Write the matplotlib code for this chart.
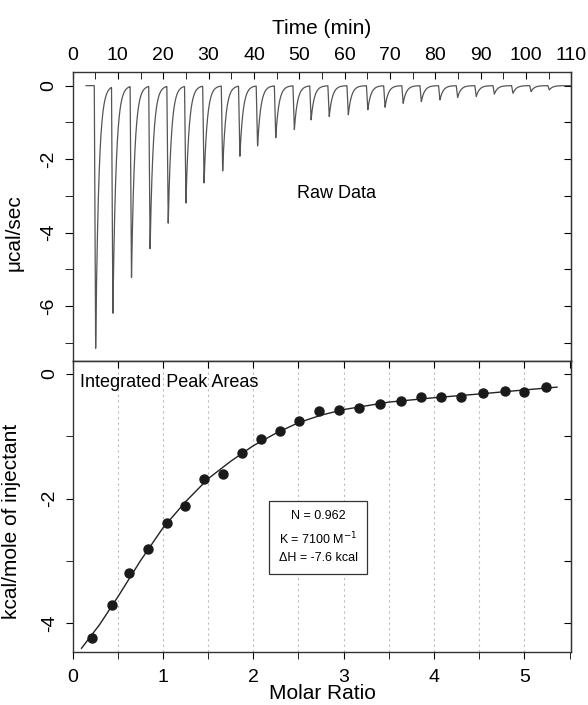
import numpy as np
import matplotlib
matplotlib.use("Agg")
import matplotlib.pyplot as plt
from matplotlib.ticker import MultipleLocator

plt.rcParams['font.family'] = ['Liberation Sans', 'DejaVu Sans']
plt.rcParams['axes.unicode_minus'] = False

# Raw data: injection times (min) and peak depths (ucal/sec)
peak_times = [5.1, 8.9, 13.0, 17.1, 21.1, 25.0, 29.0, 33.1, 36.9, 40.8, 44.8, 48.9, 52.6,
              56.6, 60.8, 65.1, 68.9, 72.9, 76.9, 81.0, 84.9, 89.0, 93.0, 97.1, 101.1, 105.1]
peak_depths = [-7.2, -6.2, -5.25, -4.48, -3.75, -3.23, -2.66, -2.34, -1.93, -1.66, -1.43, -1.21, -0.93,
               -0.84, -0.80, -0.66, -0.59, -0.48, -0.44, -0.39, -0.32, -0.30, -0.23, -0.21, -0.16, -0.12]

# Integrated heats (kcal/mole of injectant) vs molar ratio
molar_ratio = [0.22, 0.44, 0.63, 0.83, 1.04, 1.25, 1.46, 1.66, 1.87, 2.09, 2.29, 2.51,
               2.73, 2.95, 3.17, 3.40, 3.63, 3.86, 4.08, 4.30, 4.54, 4.78, 5.00, 5.24]
heat = [-4.23, -3.71, -3.19, -2.80, -2.39, -2.12, -1.69, -1.605, -1.27, -1.04, -0.91, -0.76,
        -0.59, -0.578, -0.546, -0.48, -0.428, -0.364, -0.375, -0.364, -0.31, -0.27, -0.29, -0.21]

# Fitted curve
fit_x = [0.10, 0.30, 0.50, 0.75, 1.00, 1.25, 1.50, 1.75, 2.00, 2.25, 2.50, 2.75,
         3.00, 3.50, 4.00, 4.50, 5.00, 5.36]
fit_y = [-4.40, -4.02, -3.58, -3.00, -2.47, -2.05, -1.68, -1.40, -1.15, -0.95, -0.78, -0.66,
         -0.57, -0.45, -0.38, -0.32, -0.255, -0.21]

fit_text = "N = 0.962\nK = 7100 M$^{-1}$\n\u0394H = -7.6 kcal"

# build the thermogram trace from the peaks
t = np.linspace(3, 110, 6000)
trace = np.zeros_like(t)
for tp, d in zip(peak_times, peak_depths):
    t0 = tp - 0.3
    drop = (t >= t0) & (t < tp)
    trace[drop] += d * (t[drop] - t0) / 0.3
    rec = t >= tp
    trace[rec] += d * np.exp(-(t[rec] - tp) / 0.7)

fig = plt.figure(figsize=(5.88, 7.05), dpi=100)
left, width = 0.1233, 0.8486
ax1 = fig.add_axes([left, 0.4879, width, 0.4099])
ax2 = fig.add_axes([left, 0.0752, width, 0.4128])

# --- top panel: raw data
ax1.plot(t, trace, color='#555555', lw=0.9)
ax1.set_xlim(0, 110)
ax1.set_ylim(-7.5, 0.37)
ax1.xaxis.tick_top()
ax1.xaxis.set_label_position('top')
ax1.xaxis.set_major_locator(MultipleLocator(10))
ax1.xaxis.set_minor_locator(MultipleLocator(5))
ax1.yaxis.set_major_locator(MultipleLocator(2))
ax1.yaxis.set_minor_locator(MultipleLocator(1))
ax1.tick_params(axis='x', which='both', direction='in', length=5, labelsize=14, pad=6)
ax1.tick_params(axis='y', which='both', direction='out', length=6, labelsize=14, pad=5)
ax1.set_xlabel('Time (min)', fontsize=15, labelpad=9)
ax1.set_ylabel('\u03bccal/sec', fontsize=15)
ax1.yaxis.set_label_coords(-0.097, 0.443)
ax1.text(0.53, 0.58, 'Raw Data', transform=ax1.transAxes, fontsize=13, ha='center', va='center')

sec1 = ax1.secondary_yaxis('right')
sec1.yaxis.set_major_locator(MultipleLocator(1))
sec1.tick_params(direction='in', length=5, labelright=False)

# --- bottom panel: integrated heats
for gx in np.arange(0.5, 5.01, 0.5):
    ax2.axvline(gx, color='#bbbbbb', lw=0.8, ls=(0, (2, 3)), zorder=0)
ax2.plot(fit_x, fit_y, color='#222222', lw=1.0)
ax2.plot(molar_ratio, heat, 'o', color='#1a1a1a', ms=6.5)
ax2.set_xlim(0, 5.52)
ax2.set_ylim(-4.46, 0.21)
ax2.xaxis.set_major_locator(MultipleLocator(1))
ax2.xaxis.set_minor_locator(MultipleLocator(0.5))
ax2.yaxis.set_major_locator(MultipleLocator(2))
ax2.yaxis.set_minor_locator(MultipleLocator(1))
ax2.tick_params(axis='both', which='both', direction='out', length=5, labelsize=14, pad=5)
ax2.tick_params(axis='x', pad=7)
ax2.set_xlabel('Molar Ratio', fontsize=15, labelpad=-1)
ax2.set_ylabel('kcal/mole of injectant', fontsize=15)
ax2.yaxis.set_label_coords(-0.103, 0.45)
ax2.text(0.015, 0.955, 'Integrated Peak Areas', transform=ax2.transAxes, fontsize=13,
         ha='left', va='top')
ax2.text(2.72, -2.62, fit_text, fontsize=9, ha='center', va='center', linespacing=1.6,
         bbox=dict(boxstyle='square,pad=0.75', facecolor='white', edgecolor='#333333', lw=0.9))

sec2 = ax2.secondary_yaxis('right')
sec2.yaxis.set_major_locator(MultipleLocator(1))
sec2.tick_params(direction='in', length=5, labelright=False)
sec3 = ax2.secondary_xaxis('top')
sec3.xaxis.set_major_locator(MultipleLocator(0.5))
sec3.tick_params(direction='in', length=5, labeltop=False)

for ax in (ax1, ax2):
    for lab in ax.get_yticklabels():
        lab.set_rotation(90)
        lab.set_va('center')
    for sp in ax.spines.values():
        sp.set_linewidth(1.0)
        sp.set_color('#333333')

fig.savefig('out.png', dpi=100)
